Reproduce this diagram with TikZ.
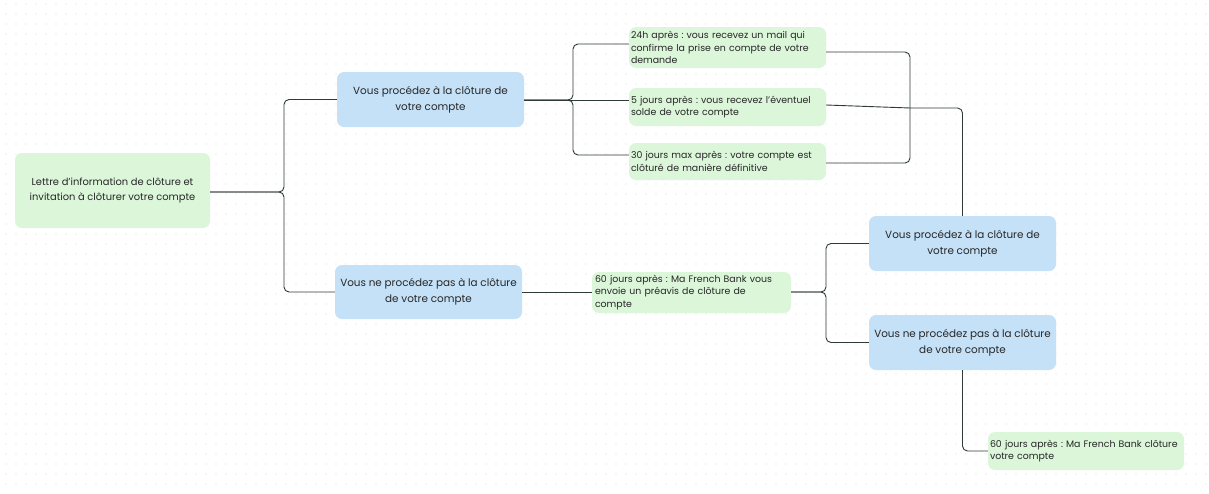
\documentclass[tikz,border=0pt]{standalone}
\usepackage{fontspec}
\setmainfont{Poppins}
\frenchspacing
\definecolor{boxgreen}{HTML}{DCF6DA}
\definecolor{boxblue}{HTML}{C5E1F8}
\definecolor{txt}{HTML}{262626}
\definecolor{wire}{HTML}{2E3A34}
\definecolor{dotc}{HTML}{DADADA}
\tikzset{
  base/.style={rounded corners=7pt, inner sep=2pt, text=txt, anchor=center},
  bigbox/.style={base, fill=boxblue, align=center, font=\fontsize{10.4}{16}\selectfont},
  rootbox/.style={base, fill=boxgreen, align=center, font=\fontsize{9.9}{15}\selectfont},
  smallbox/.style={base, fill=boxgreen, align=left, font=\fontsize{9.4}{12.6}\selectfont},
  wirel/.style={draw=wire, line width=0.9pt, rounded corners=5pt},
}
\begin{document}
\begin{tikzpicture}[x=1pt,y=-1pt]
\useasboundingbox (0,0) rectangle (1209,493);
\fill[white] (0,0) rectangle (1209,493);
\foreach \x in {6,16,...,1206} {
  \foreach \y in {4,14,...,490} {
    \fill[dotc] (\x,\y) circle (0.55);
  }
}
% nodes
\node[rootbox, minimum width=195, minimum height=75] (root) at (112.5,190.5)
  {Lettre d'information de clôture et\\invitation à clôturer votre compte};
\node[bigbox, minimum width=187, minimum height=55] (a1) at (430.5,99.5)
  {Vous procédez à la clôture de\\votre compte};
\node[bigbox, minimum width=187, minimum height=54] (a2) at (428.5,292)
  {Vous ne procédez pas à la clôture\\de votre compte};
\node[smallbox, minimum width=197, minimum height=41, text width=193] (t1) at (727.5,47.5)
  {24h après : vous recevez un mail qui\\confirme la prise en compte de votre\\demande};
\node[smallbox, minimum width=197, minimum height=38, text width=193] (t2) at (727.5,107)
  {5 jours après : vous recevez l'éventuel\\solde de votre compte};
\node[smallbox, minimum width=197, minimum height=37, text width=193] (t3) at (727.5,161.5)
  {30 jours max après : votre compte est\\clôturé de manière définitive};
\node[smallbox, minimum width=199, minimum height=41, text width=193] (p) at (691.5,292.5)
  {60 jours après : Ma French Bank vous\\envoie un préavis de clôture de\\compte};
\node[bigbox, minimum width=187, minimum height=55] (b1) at (962.5,243.5)
  {Vous procédez à la clôture de\\votre compte};
\node[bigbox, minimum width=187, minimum height=55] (b2) at (962.5,342.5)
  {Vous ne procédez pas à la clôture\\de votre compte};
\node[smallbox, minimum width=196, minimum height=38, text width=192] (f) at (1086,451)
  {60 jours après : Ma French Bank clôture\\votre compte};
% junction coordinates
\coordinate (j0) at (284,192);
\coordinate (j1) at (573,100);
\coordinate (j2) at (910,108);
\coordinate (j3) at (826,292);
\coordinate (t1in) at (t1.west |- 0,44);
\coordinate (t2in) at (t2.west |- 0,100);
\coordinate (t3in) at (t3.west |- 0,155);
\coordinate (t1out) at (t1.east |- 0,52);
\coordinate (t2out) at (t2.east |- 0,105);
\coordinate (t3out) at (t3.east |- 0,163);
\coordinate (fin) at (f.west |- 0,451);
% connectors
\draw[wirel] (root.east |- j0) -- (j0) |- (a1.west);
\draw[wirel] (root.east |- j0) -- (j0) |- (a2.west);
\draw[wirel] (a1.east |- j1) -- (j1) |- (t1in);
\draw[wirel] (a1.east |- j1) -- (t2in);
\draw[wirel] (a1.east |- j1) -- (j1) |- (t3in);
\draw[wirel] (t1out) -| (j2);
\draw[wirel] (t2out) -- (j2);
\draw[wirel] (t3out) -| (j2);
\draw[wirel] (j2) -| (b1.north);
\draw[wirel] (a2.east) -- (p.west |- a2.east);
\draw[wirel] (p.east |- j3) -- (j3) |- (b1.west);
\draw[wirel] (p.east |- j3) -- (j3) |- (b2.west);
\draw[wirel] (b2.south) |- (fin);
\end{tikzpicture}
\end{document}
